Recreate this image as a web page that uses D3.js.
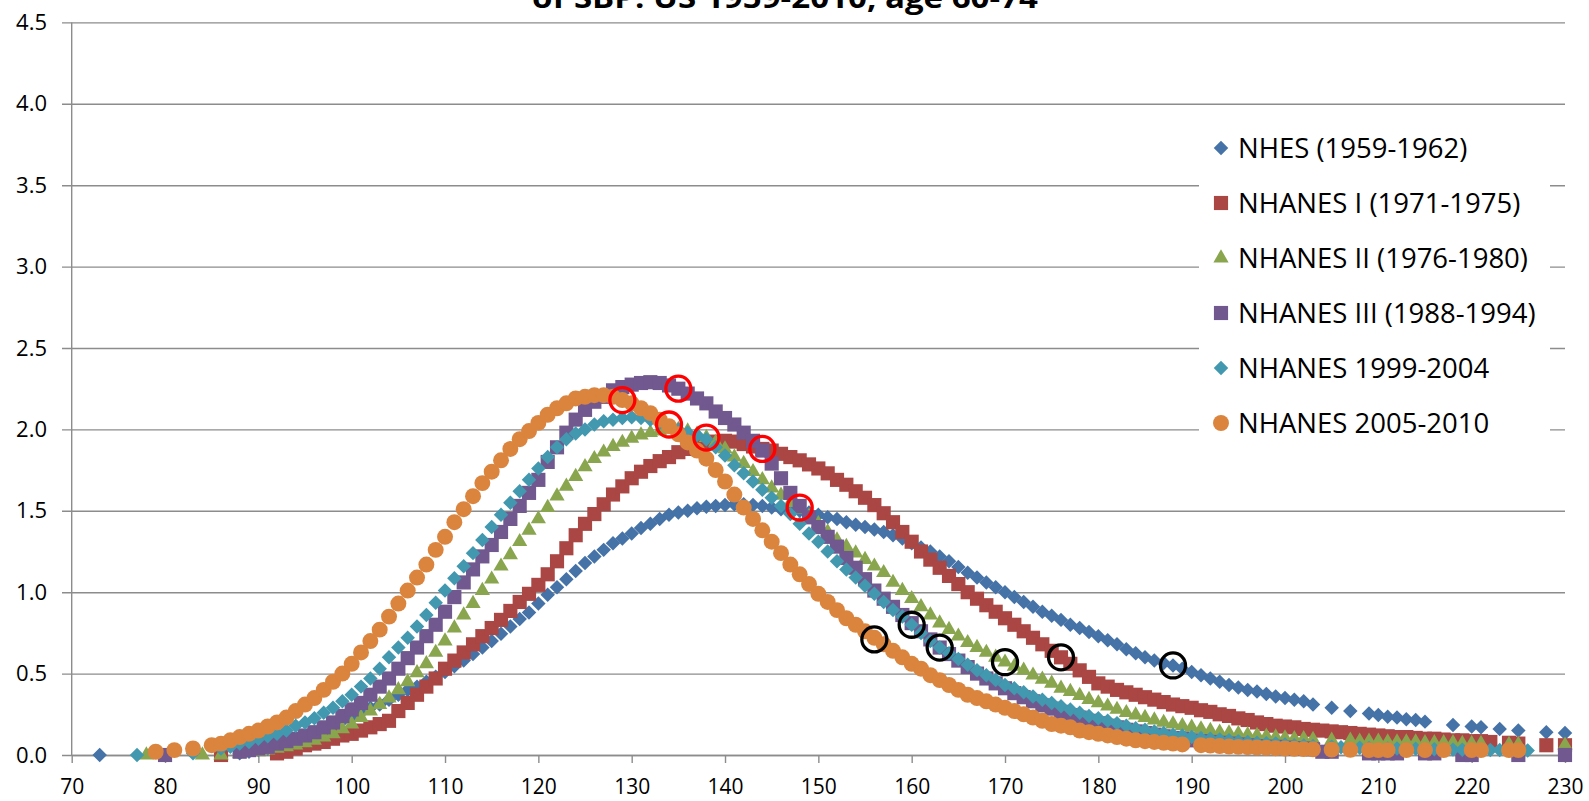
<!DOCTYPE html>
<html>
<head>
<meta charset="utf-8">
<script src="https://cdn.jsdelivr.net/npm/d3@7"></script>
<style>
  body { margin: 0; background: #fff; }
  svg { display: block; font-family: "Open Sans", sans-serif; }
</style>
</head>
<body>
<script>
// SBP distributions, age 60-74, one value per mmHg (null = no point)
const _ = null;
const sbp = d3.range(70, 231);

const nhes = [
  _,_,_,0.00,_,_,_,_,_,_,
  _,_,_,_,_,_,_,_,0.01,0.02,
  0.03,0.04,0.06,0.07,0.09,0.11,0.14,0.16,0.18,0.21,
  0.235,0.26,0.29,0.31,0.34,0.37,0.40,0.42,0.45,0.48,
  0.51,0.545,0.58,0.62,0.66,0.70,0.745,0.79,0.835,0.875,
  0.93,0.985,1.03,1.08,1.13,1.18,1.22,1.26,1.30,1.33,
  1.36,1.395,1.42,1.45,1.475,1.49,1.50,1.515,1.525,1.53,
  1.535,1.54,1.54,1.535,1.53,1.52,1.51,1.505,1.50,1.49,
  1.475,1.46,1.45,1.43,1.415,1.40,1.385,1.37,1.35,1.33,
  1.30,1.275,1.25,1.22,1.19,1.155,1.12,1.09,1.06,1.03,
  1.00,0.97,0.94,0.91,0.88,0.855,0.83,0.80,0.78,0.755,
  0.73,0.705,0.68,0.65,0.625,0.60,0.58,0.565,0.55,0.53,
  0.51,0.49,0.47,0.45,0.43,0.415,0.40,0.39,0.375,0.36,
  0.35,0.34,0.33,0.31,_,0.29,_,0.27,_,0.255,
  0.245,0.235,0.23,0.22,0.215,0.205,_,_,0.185,_,
  0.175,0.17,_,0.16,_,0.15,_,_,0.14,_,
  0.135
];

const nhanes1 = [
  _,_,_,_,_,_,_,_,_,_,
  _,_,_,_,_,_,0.00,_,_,_,
  _,_,0.01,0.02,0.04,0.06,0.07,0.08,0.10,0.12,
  0.13,0.15,0.17,0.19,0.21,0.27,0.32,0.37,0.42,0.47,
  0.53,0.58,0.63,0.68,0.73,0.78,0.83,0.885,0.94,0.99,
  1.045,1.11,1.19,1.27,1.35,1.42,1.48,1.54,1.60,1.65,
  1.70,1.74,1.775,1.805,1.83,1.86,1.88,1.90,1.915,1.925,
  1.93,1.925,1.91,1.895,1.88,1.87,1.85,1.83,1.81,1.785,
  1.76,1.73,1.69,1.66,1.62,1.58,1.535,1.485,1.43,1.37,
  1.31,1.25,1.20,1.15,1.10,1.05,1.00,0.96,0.92,0.88,
  0.84,0.80,0.76,0.72,0.68,0.64,0.60,0.56,0.52,0.48,
  0.44,0.42,0.40,0.385,0.37,0.355,0.34,0.325,0.31,0.30,
  0.29,0.275,0.265,0.25,0.24,0.225,0.215,0.20,0.19,0.18,
  0.175,0.17,0.16,0.155,0.15,0.145,0.14,0.135,0.13,0.125,
  0.12,0.115,0.11,0.11,0.105,0.10,0.10,0.095,0.09,0.09,
  0.085,0.085,0.08,_,0.075,0.07,_,_,0.06,_,
  0.06
];

const nhanes2 = [
  _,_,_,_,_,_,_,_,0.00,_,
  _,_,_,_,0.00,_,0.00,_,0.01,0.02,
  0.02,0.03,0.04,0.05,0.06,0.075,0.09,0.11,0.13,0.16,
  0.19,0.23,0.27,0.31,0.35,0.40,0.45,0.505,0.56,0.63,
  0.70,0.78,0.86,0.93,1.01,1.08,1.16,1.23,1.31,1.38,
  1.45,1.52,1.59,1.65,1.71,1.77,1.82,1.86,1.895,1.92,
  1.945,1.965,1.98,1.99,2.00,2.00,1.99,1.97,1.95,1.92,
  1.88,1.83,1.79,1.74,1.69,1.64,1.595,1.55,1.51,1.465,
  1.42,1.37,1.32,1.28,1.24,1.20,1.16,1.12,1.06,1.01,
  0.96,0.91,0.86,0.81,0.77,0.73,0.69,0.66,0.63,0.60,
  0.57,0.545,0.52,0.49,0.465,0.44,0.41,0.39,0.365,0.34,
  0.32,0.30,0.28,0.26,0.245,0.23,0.215,0.20,0.19,0.18,
  0.17,0.16,0.15,0.14,0.135,0.13,0.125,0.12,0.115,0.11,
  0.105,0.10,0.10,0.095,_,0.09,_,0.09,0.085,0.085,
  0.085,0.08,0.08,0.08,0.08,0.075,0.075,0.075,0.075,0.07,
  0.07,0.07,_,_,0.065,0.065,_,_,_,_,
  0.06
];

const nhanes3 = [
  _,_,_,_,_,_,_,_,_,_,
  0.00,_,_,_,_,_,_,_,0.02,0.03,
  0.04,0.05,0.07,0.085,0.10,0.12,0.14,0.17,0.20,0.24,
  0.28,0.32,0.37,0.42,0.47,0.53,0.595,0.66,0.73,0.80,
  0.88,0.97,1.06,1.14,1.22,1.29,1.37,1.45,1.53,1.61,
  1.69,1.80,1.89,1.98,2.06,2.12,2.17,2.20,2.24,2.26,
  2.275,2.285,2.29,2.285,2.27,2.25,2.22,2.19,2.16,2.11,
  2.07,2.03,1.98,1.93,1.87,1.79,1.70,1.61,1.53,1.46,
  1.40,1.34,1.28,1.21,1.15,1.08,1.01,0.96,0.91,0.86,
  0.81,0.76,0.71,0.66,0.62,0.58,0.54,0.50,0.47,0.44,
  0.41,0.38,0.355,0.33,0.305,0.285,0.265,0.245,0.23,0.21,
  0.195,0.18,0.17,0.155,0.145,0.135,0.125,0.115,0.105,0.10,
  0.09,0.085,0.08,0.075,0.07,0.065,0.06,0.055,0.05,0.05,
  0.045,0.04,0.04,0.035,0.02,0.02,_,_,_,0.01,
  0.01,0.01,0.01,_,_,0.01,0.01,_,_,0.00,
  0.00,_,_,_,_,0.00,_,_,_,_,
  0.00
];

const nhanes9904 = [
  _,_,_,_,_,_,_,0.00,_,_,
  _,_,_,0.01,_,_,0.04,0.05,0.07,0.08,
  0.10,0.115,0.13,0.15,0.18,0.20,0.225,0.26,0.29,0.33,
  0.37,0.42,0.47,0.53,0.60,0.66,0.72,0.79,0.86,0.935,
  1.01,1.085,1.16,1.24,1.32,1.40,1.475,1.55,1.62,1.69,
  1.76,1.83,1.89,1.94,1.975,2.00,2.03,2.05,2.06,2.07,
  2.075,2.07,2.06,2.04,2.02,2.00,1.98,1.965,1.94,1.89,
  1.84,1.78,1.73,1.68,1.63,1.58,1.53,1.48,1.42,1.36,
  1.31,1.25,1.19,1.14,1.09,1.04,0.99,0.94,0.89,0.85,
  0.80,0.75,0.70,0.66,0.625,0.59,0.555,0.52,0.49,0.46,
  0.43,0.41,0.385,0.36,0.34,0.32,0.30,0.28,0.26,0.24,
  0.225,0.21,0.195,0.18,0.165,0.155,0.145,0.135,0.125,0.12,
  0.11,0.105,0.10,0.095,0.09,0.085,0.08,0.075,0.072,0.07,
  0.065,0.06,0.058,0.055,_,0.05,0.048,_,0.045,0.043,
  _,0.04,0.04,_,0.038,_,0.035,_,0.033,0.032,
  _,0.03,0.03,0.03,_,_,0.028,_,_,_,
  _
];

const nhanes0510 = [
  _,_,_,_,_,_,_,_,_,0.02,
  _,0.03,_,0.04,_,0.06,0.07,0.09,0.11,0.13,
  0.15,0.175,0.20,0.23,0.27,0.31,0.35,0.40,0.45,0.50,
  0.56,0.63,0.70,0.77,0.85,0.93,1.01,1.09,1.17,1.26,
  1.34,1.43,1.51,1.59,1.67,1.74,1.81,1.88,1.94,1.99,
  2.04,2.09,2.13,2.16,2.19,2.20,2.21,2.21,2.20,2.18,
  2.16,2.13,2.10,2.06,2.02,1.97,1.92,1.87,1.82,1.75,
  1.68,1.60,1.52,1.45,1.38,1.31,1.24,1.17,1.11,1.05,
  0.99,0.94,0.89,0.84,0.80,0.76,0.72,0.68,0.64,0.60,
  0.56,0.53,0.49,0.46,0.43,0.40,0.37,0.35,0.33,0.31,
  0.29,0.27,0.25,0.23,0.21,0.19,0.18,0.17,0.15,0.14,
  0.13,0.12,0.11,0.10,0.09,0.085,0.08,0.075,0.07,0.065,
  _,0.06,0.058,0.055,0.052,0.05,0.048,0.046,0.044,0.042,
  0.04,0.038,0.036,0.035,_,0.033,_,0.032,_,0.03,
  0.03,0.03,_,0.03,_,0.03,_,0.03,_,_,
  0.03,0.03,_,_,0.03,0.03,_,_,_,_,
  _
];

const seriesNames = ["NHES (1959-1962)", "NHANES I (1971-1975)", "NHANES II (1976-1980)",
                     "NHANES III (1988-1994)", "NHANES 1999-2004", "NHANES 2005-2010"];
const seriesValues = [nhes, nhanes1, nhanes2, nhanes3, nhanes9904, nhanes0510];
const seriesColors = ["#4572A7", "#AA4643", "#89A54E", "#71588F", "#4198AF", "#DB843D"];
const seriesShapes = ["diamond", "square", "triangle", "square", "diamond", "circle"];

// circled points: [sbp, value]
const redCircles = [[129, 2.18], [135, 2.25], [134, 2.03], [138, 1.95], [144, 1.88], [148, 1.52]];
const blackCircles = [[156, 0.71], [160, 0.80], [163, 0.66], [170, 0.57], [176, 0.60], [188, 0.55]];

const xTicks = [70, 80, 90, 100, 110, 120, 130, 140, 150, 160, 170, 180, 190, 200, 210, 220, 230];
const yTicks = [0, 0.5, 1, 1.5, 2, 2.5, 3, 3.5, 4, 4.5];
const titleText = "of SBP: US 1959-2010, age 60-74";

const width = 1589, height = 801;
const plotLeft = 71.7, plotRight = 1565, plotTop = 22.4, plotBottom = 755;

const svg = d3.select("body").append("svg")
    .attr("width", width)
    .attr("height", height);

const x = d3.scaleLinear().domain([70, 230]).range([plotLeft, plotRight]);
const y = d3.scaleLinear().domain([0, 4.5]).range([plotBottom, plotTop]);

// title (its first line lies above the picture, as in the original)
svg.append("text")
    .attr("x", 785)
    .attr("y", 8)
    .attr("text-anchor", "middle")
    .attr("font-weight", "bold")
    .attr("font-size", 29)
    .attr("textLength", 506)
    .attr("lengthAdjust", "spacingAndGlyphs")
    .text(titleText);

// gridlines + y labels
const yAxis = svg.append("g")
    .attr("transform", "translate(62,0)")
    .call(d3.axisLeft(y).tickValues(yTicks).tickFormat(d3.format(".1f"))
        .tickSize(-(plotRight - 62)).tickPadding(15));
yAxis.select(".domain").remove();
yAxis.selectAll(".tick line").attr("stroke", "#8c8c8c").attr("stroke-width", 1.4);
yAxis.selectAll(".tick text").attr("font-size", 22).attr("fill", "#000")
    .attr("font-family", "Open Sans, sans-serif");

// x axis
const xAxis = svg.append("g")
    .attr("transform", `translate(0,${plotBottom})`)
    .call(d3.axisBottom(x).tickValues(xTicks).tickSizeInner(8).tickSizeOuter(0).tickPadding(16));
xAxis.select(".domain").attr("stroke", "#8c8c8c").attr("stroke-width", 1.4);
xAxis.selectAll(".tick line").attr("stroke", "#8c8c8c").attr("stroke-width", 1.4);
xAxis.selectAll(".tick text").attr("font-size", 21).attr("fill", "#000")
    .attr("font-family", "Open Sans, sans-serif");

// vertical axis line
svg.append("line")
    .attr("x1", plotLeft).attr("x2", plotLeft)
    .attr("y1", plotTop).attr("y2", plotBottom)
    .attr("stroke", "#8c8c8c").attr("stroke-width", 1.4);

// marker shapes
function markerPath(shape) {
    if (shape === "diamond") return d3.symbol(d3.symbolSquare, 105)();
    if (shape === "square") return d3.symbol(d3.symbolSquare, 200)();
    if (shape === "triangle") return d3.symbol(d3.symbolTriangle, 100)();
    return d3.symbol(d3.symbolCircle, 200)();
}
function markerRotate(shape) {
    return shape === "diamond" ? " rotate(45)" : "";
}

// series, drawn in order so the later ones sit on top
seriesValues.forEach(function (vals, i) {
    const pts = sbp.map((s, j) => ({ s: s, v: vals[j] })).filter(d => d.v !== null);
    svg.append("g")
        .attr("class", "series s" + i)
        .selectAll("path")
        .data(pts)
        .enter()
        .append("path")
        .attr("d", markerPath(seriesShapes[i]))
        .attr("transform", d => `translate(${x(d.s)},${y(d.v)})` + markerRotate(seriesShapes[i]))
        .attr("fill", seriesColors[i]);
});

// annotation circles
function drawRings(list, color) {
    svg.append("g")
        .selectAll("circle")
        .data(list)
        .enter()
        .append("circle")
        .attr("cx", d => x(d[0]))
        .attr("cy", d => y(d[1]))
        .attr("r", 12.5)
        .attr("fill", "none")
        .attr("stroke", color)
        .attr("stroke-width", 3.3);
}
drawRings(redCircles, "#ff0000");
drawRings(blackCircles, "#000000");

// legend
const legend = svg.append("g");
legend.append("rect")
    .attr("x", 1199).attr("y", 120)
    .attr("width", 351).attr("height", 330)
    .attr("fill", "#fff");
const rows = legend.selectAll(".row")
    .data(seriesNames)
    .enter()
    .append("g")
    .attr("transform", (d, i) => `translate(1221,${148 + i * 55})`);
rows.append("path")
    .attr("d", (d, i) => markerPath(seriesShapes[i]))
    .attr("transform", (d, i) => markerRotate(seriesShapes[i]).trim())
    .attr("fill", (d, i) => seriesColors[i]);
rows.append("text")
    .attr("x", 17)
    .attr("y", 10)
    .attr("font-size", 27.5)
    .attr("fill", "#000")
    .text(d => d);
</script>
</body>
</html>
